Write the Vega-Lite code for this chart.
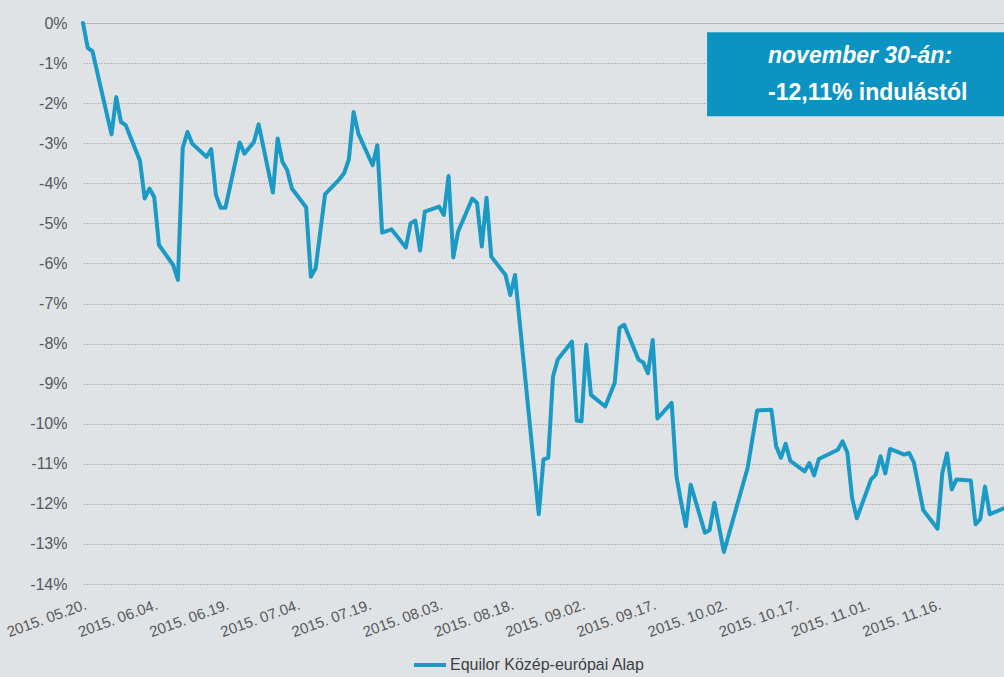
{
  "$schema": "https://vega.github.io/schema/vega-lite/v6.json",
  "width": 921,
  "height": 561,
  "autosize": {"type": "none"},
  "padding": {"left": 83, "top": 23, "right": 0, "bottom": 93},
  "background": "#dfe3e6",
  "config": {"view": {"stroke": null}, "font": "Liberation Sans"},
  "datasets": {
    "fund": [
      {"date": "2015-05-20", "value": 0},
      {"date": "2015-05-21", "value": -0.62},
      {"date": "2015-05-22", "value": -0.71},
      {"date": "2015-05-26", "value": -2.78},
      {"date": "2015-05-27", "value": -1.85},
      {"date": "2015-05-28", "value": -2.47},
      {"date": "2015-05-29", "value": -2.55},
      {"date": "2015-06-01", "value": -3.44},
      {"date": "2015-06-02", "value": -4.38},
      {"date": "2015-06-03", "value": -4.13},
      {"date": "2015-06-04", "value": -4.34},
      {"date": "2015-06-05", "value": -5.54},
      {"date": "2015-06-08", "value": -6.04},
      {"date": "2015-06-09", "value": -6.41},
      {"date": "2015-06-10", "value": -3.12},
      {"date": "2015-06-11", "value": -2.72},
      {"date": "2015-06-12", "value": -3.01},
      {"date": "2015-06-15", "value": -3.34},
      {"date": "2015-06-16", "value": -3.15},
      {"date": "2015-06-17", "value": -4.29},
      {"date": "2015-06-18", "value": -4.61},
      {"date": "2015-06-19", "value": -4.61},
      {"date": "2015-06-22", "value": -2.98},
      {"date": "2015-06-23", "value": -3.26},
      {"date": "2015-06-25", "value": -2.97},
      {"date": "2015-06-26", "value": -2.53},
      {"date": "2015-06-29", "value": -4.23},
      {"date": "2015-06-30", "value": -2.88},
      {"date": "2015-07-01", "value": -3.46},
      {"date": "2015-07-02", "value": -3.67},
      {"date": "2015-07-03", "value": -4.13},
      {"date": "2015-07-06", "value": -4.6},
      {"date": "2015-07-07", "value": -6.33},
      {"date": "2015-07-08", "value": -6.12},
      {"date": "2015-07-10", "value": -4.27},
      {"date": "2015-07-13", "value": -3.9},
      {"date": "2015-07-14", "value": -3.75},
      {"date": "2015-07-15", "value": -3.4},
      {"date": "2015-07-16", "value": -2.22},
      {"date": "2015-07-17", "value": -2.76},
      {"date": "2015-07-20", "value": -3.55},
      {"date": "2015-07-21", "value": -3.05},
      {"date": "2015-07-22", "value": -5.23},
      {"date": "2015-07-24", "value": -5.15},
      {"date": "2015-07-27", "value": -5.6},
      {"date": "2015-07-28", "value": -5.0},
      {"date": "2015-07-29", "value": -4.93},
      {"date": "2015-07-30", "value": -5.68},
      {"date": "2015-07-31", "value": -4.71},
      {"date": "2015-08-03", "value": -4.58},
      {"date": "2015-08-04", "value": -4.79},
      {"date": "2015-08-05", "value": -3.82},
      {"date": "2015-08-06", "value": -5.85},
      {"date": "2015-08-07", "value": -5.21},
      {"date": "2015-08-10", "value": -4.38},
      {"date": "2015-08-11", "value": -4.49},
      {"date": "2015-08-12", "value": -5.58},
      {"date": "2015-08-13", "value": -4.36},
      {"date": "2015-08-14", "value": -5.83},
      {"date": "2015-08-17", "value": -6.29},
      {"date": "2015-08-18", "value": -6.79},
      {"date": "2015-08-19", "value": -6.29},
      {"date": "2015-08-24", "value": -12.26},
      {"date": "2015-08-25", "value": -10.89},
      {"date": "2015-08-26", "value": -10.85},
      {"date": "2015-08-27", "value": -8.82},
      {"date": "2015-08-28", "value": -8.4},
      {"date": "2015-08-31", "value": -7.95},
      {"date": "2015-09-01", "value": -9.92},
      {"date": "2015-09-02", "value": -9.94},
      {"date": "2015-09-03", "value": -8.03},
      {"date": "2015-09-04", "value": -9.28},
      {"date": "2015-09-07", "value": -9.57},
      {"date": "2015-09-09", "value": -8.98},
      {"date": "2015-09-10", "value": -7.61},
      {"date": "2015-09-11", "value": -7.53},
      {"date": "2015-09-14", "value": -8.4},
      {"date": "2015-09-15", "value": -8.47},
      {"date": "2015-09-16", "value": -8.74},
      {"date": "2015-09-17", "value": -7.91},
      {"date": "2015-09-18", "value": -9.87},
      {"date": "2015-09-21", "value": -9.48},
      {"date": "2015-09-22", "value": -11.31},
      {"date": "2015-09-23", "value": -11.97},
      {"date": "2015-09-24", "value": -12.56},
      {"date": "2015-09-25", "value": -11.52},
      {"date": "2015-09-28", "value": -12.72},
      {"date": "2015-09-29", "value": -12.65},
      {"date": "2015-09-30", "value": -11.97},
      {"date": "2015-10-02", "value": -13.2},
      {"date": "2015-10-07", "value": -11.1},
      {"date": "2015-10-09", "value": -9.67},
      {"date": "2015-10-12", "value": -9.65},
      {"date": "2015-10-13", "value": -10.56},
      {"date": "2015-10-14", "value": -10.85},
      {"date": "2015-10-15", "value": -10.5},
      {"date": "2015-10-16", "value": -10.93},
      {"date": "2015-10-19", "value": -11.19},
      {"date": "2015-10-20", "value": -10.98},
      {"date": "2015-10-21", "value": -11.29},
      {"date": "2015-10-22", "value": -10.88},
      {"date": "2015-10-26", "value": -10.65},
      {"date": "2015-10-27", "value": -10.44},
      {"date": "2015-10-28", "value": -10.72},
      {"date": "2015-10-29", "value": -11.85},
      {"date": "2015-10-30", "value": -12.36},
      {"date": "2015-11-02", "value": -11.39},
      {"date": "2015-11-03", "value": -11.27},
      {"date": "2015-11-04", "value": -10.81},
      {"date": "2015-11-05", "value": -11.24},
      {"date": "2015-11-06", "value": -10.63},
      {"date": "2015-11-09", "value": -10.77},
      {"date": "2015-11-10", "value": -10.73},
      {"date": "2015-11-11", "value": -10.96},
      {"date": "2015-11-13", "value": -12.16},
      {"date": "2015-11-16", "value": -12.62},
      {"date": "2015-11-17", "value": -11.23},
      {"date": "2015-11-18", "value": -10.74},
      {"date": "2015-11-19", "value": -11.64},
      {"date": "2015-11-20", "value": -11.39},
      {"date": "2015-11-23", "value": -11.42},
      {"date": "2015-11-24", "value": -12.51},
      {"date": "2015-11-25", "value": -12.38},
      {"date": "2015-11-26", "value": -11.57},
      {"date": "2015-11-27", "value": -12.26},
      {"date": "2015-11-30", "value": -12.11}
    ],
    "note": [
      {"start": "2015-09-28T11:00:00Z", "end": "2015-11-30T00:00:00Z", "top": -0.23, "bottom": -2.33, "textx": "2015-10-11T07:00:00Z", "line1": "november 30-án:", "y1": -1.0, "line2": "-12,11% indulástól", "y2": -1.91}
    ]
  },
  "layer": [
    {
      "data": {"name": "fund"},
      "mark": {"type": "line", "strokeWidth": 4, "strokeJoin": "round", "strokeCap": "round"},
      "encoding": {
        "x": {
          "field": "date", "type": "temporal",
          "scale": {"type": "utc", "domain": [{"year": 2015, "month": 5, "date": 20, "utc": true}, {"year": 2015, "month": 11, "date": 30, "utc": true}]},
          "axis": {
            "title": null, "grid": false, "domain": false, "ticks": false,
            "labelExpr": "utcFormat(datum.value, '%Y. %m.%d.')",
            "values": [
              {"year": 2015, "month": 5, "date": 20, "utc": true},
              {"year": 2015, "month": 6, "date": 4, "utc": true},
              {"year": 2015, "month": 6, "date": 19, "utc": true},
              {"year": 2015, "month": 7, "date": 4, "utc": true},
              {"year": 2015, "month": 7, "date": 19, "utc": true},
              {"year": 2015, "month": 8, "date": 3, "utc": true},
              {"year": 2015, "month": 8, "date": 18, "utc": true},
              {"year": 2015, "month": 9, "date": 2, "utc": true},
              {"year": 2015, "month": 9, "date": 17, "utc": true},
              {"year": 2015, "month": 10, "date": 2, "utc": true},
              {"year": 2015, "month": 10, "date": 17, "utc": true},
              {"year": 2015, "month": 11, "date": 1, "utc": true},
              {"year": 2015, "month": 11, "date": 16, "utc": true}
            ],
            "labelAngle": -20, "labelAlign": "right", "labelBaseline": "top",
            "labelFontSize": 15, "labelColor": "#595959", "labelPadding": 13,
            "labelFlush": false, "labelOverlap": false, "labelBound": false
          }
        },
        "y": {
          "field": "value", "type": "quantitative",
          "scale": {"domain": [-14, 0], "nice": false, "zero": false},
          "axis": {
            "title": null, "domain": false, "ticks": false,
            "values": [-14, -13, -12, -11, -10, -9, -8, -7, -6, -5, -4, -3, -2, -1, 0],
            "labelExpr": "datum.value + '%'",
            "labelFontSize": 16, "labelColor": "#595959", "labelPadding": 16,
            "gridColor": {"condition": {"test": "datum.value === 0", "value": "#a8a8a8"}, "value": "#8f8f8f"},
            "gridDash": {"condition": {"test": "datum.value === 0", "value": [1, 0]}, "value": [1, 2]},
            "gridWidth": 1
          }
        },
        "color": {
          "datum": "Equilor Közép-európai Alap",
          "type": "nominal",
          "scale": {"range": ["#1b9ac6"]},
          "legend": {
            "title": null, "orient": "none", "legendX": 329, "legendY": 624,
            "direction": "horizontal", "symbolType": "stroke", "symbolSize": 1024,
            "symbolStrokeWidth": 4, "labelFontSize": 16, "labelColor": "#404040", "labelOffset": 2, "labelLimit": 0
          }
        }
      }
    },
    {
      "data": {"name": "note"},
      "mark": {"type": "rect", "color": "#0b94c1"},
      "encoding": {
        "x": {"field": "start", "type": "temporal"},
        "x2": {"field": "end"},
        "y": {"field": "top", "type": "quantitative"},
        "y2": {"field": "bottom"}
      }
    },
    {
      "data": {"name": "note"},
      "mark": {"type": "text", "color": "white", "fontSize": 23, "fontWeight": "bold", "fontStyle": "italic", "align": "left", "baseline": "alphabetic"},
      "encoding": {
        "x": {"field": "textx", "type": "temporal"},
        "y": {"field": "y1", "type": "quantitative"},
        "text": {"field": "line1"}
      }
    },
    {
      "data": {"name": "note"},
      "mark": {"type": "text", "color": "white", "fontSize": 23, "fontWeight": "bold", "align": "left", "baseline": "alphabetic"},
      "encoding": {
        "x": {"field": "textx", "type": "temporal"},
        "y": {"field": "y2", "type": "quantitative"},
        "text": {"field": "line2"}
      }
    }
  ]
}
